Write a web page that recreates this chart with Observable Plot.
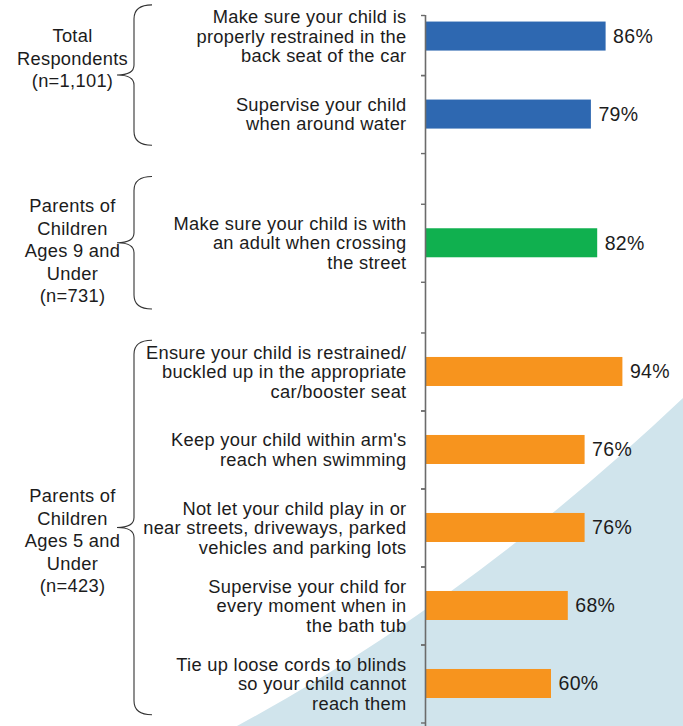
<!DOCTYPE html>
<html><head><meta charset="utf-8">
<script src="https://cdn.jsdelivr.net/npm/d3@7"></script>
<script src="https://cdn.jsdelivr.net/npm/@observablehq/plot@0.6"></script>
<style>
body{margin:0;background:#fff;}
#chart svg{display:block;}
</style></head>
<body><div id="chart"></div>
<script>
// ---- data ----
const groupLabels = [
  "Total\nRespondents\n(n=1,101)",
  "Parents of\nChildren\nAges 9 and\nUnder\n(n=731)",
  "Parents of\nChildren\nAges 5 and\nUnder\n(n=423)"
];
const groupColors = ["#2e68b1", "#10b04f", "#f7941e"];
const behaviors = [
  "Make sure your child is\nproperly restrained in the\nback seat of the car",
  "Supervise your child\nwhen around water",
  "Make sure your child is with\nan adult when crossing\nthe street",
  "Ensure your child is restrained/\nbuckled up in the appropriate\ncar/booster seat",
  "Keep your child within arm's\nreach when swimming",
  "Not let your child play in or\nnear streets, driveways, parked\nvehicles and parking lots",
  "Supervise your child for\nevery moment when in\nthe bath tub",
  "Tie up loose cords to blinds\nso your child cannot\nreach them"
];
const groupOf = [0, 0, 1, 2, 2, 2, 2, 2];
const percents = [86, 79, 82, 94, 76, 76, 68, 60];

// ---- layout helpers ----
const gap = 0.65;                 // spacer between groups, in rows
const labelShift = [-18, 7, 12];  // px nudge of group labels off the brace tip
const rows = behaviors.map((b, i) => ({
  behavior: b, pct: percents[i], group: groupOf[i], slot: i + groupOf[i] * gap
}));
const first = rows[0].slot, last = rows[rows.length - 1].slot;
const yMin = first - 0.27, yMax = last + 0.545;
const bounds = rows.flatMap(d => [d.slot - 0.5, d.slot + 0.5])
  .map(v => Math.max(v, yMin)).filter(v => v <= yMax);
const groups = groupLabels.map((label, g) => {
  const s = rows.filter(d => d.group === g).map(d => d.slot);
  const c = (s[0] + s[s.length - 1]) / 2;
  const half = Math.max((s[s.length - 1] - s[0]) / 2 + 0.4, 0.85);
  return {label, g, c, top: c - half, bottom: c + half};
});

const font = "'Liberation Sans', Arial, Helvetica, sans-serif";
const ink = "#1c1c1c";

function background(index, scales, values, dims) {
  const W = dims.width, H = dims.height;
  return d3.create("svg:path")
    .attr("d", `M${W},398 Q470,600 237,${H} L${W},${H} Z`)
    .attr("fill", "#d0e4ec").node();
}

function braces(index, scales, values, dims) {
  const g = d3.create("svg:g").attr("fill", "none").attr("stroke", "#333").attr("stroke-width", 1.1);
  const xs = 134, xe = 152, xt = 117, r = 14, rt = 10;
  for (const d of groups) {
    const y0 = scales.y(d.top), y1 = scales.y(d.bottom), ym = scales.y(d.c);
    g.append("path").attr("d",
      `M${xe},${y0} Q${xs},${y0} ${xs},${y0 + r} L${xs},${ym - rt} Q${xs},${ym} ${xt},${ym} ` +
      `Q${xs},${ym} ${xs},${ym + rt} L${xs},${y1 - r} Q${xs},${y1} ${xe},${y1}`);
  }
  return g.node();
}

const chart = Plot.plot({
  width: 683,
  height: 726,
  marginLeft: 425,
  marginRight: 48,
  marginTop: 15,
  marginBottom: 0,
  style: {fontFamily: font, background: "#fff", overflow: "visible"},
  x: {domain: [0, 100], axis: null},
  y: {domain: [yMin, yMax], reverse: true, axis: null},
  marks: [
    background,
    Plot.rectX(rows, {
      x1: 0, x2: "pct",
      y1: d => d.slot - 0.186, y2: d => d.slot + 0.186,
      fill: d => groupColors[d.group]
    }),
    Plot.ruleX([0], {stroke: "#6b6b6b", strokeWidth: 1.6}),
    Plot.ruleY(bounds, {y: d => d, x1: -1.9, x2: 0, stroke: "#6b6b6b", strokeWidth: 1.4}),
    Plot.text(rows, {
      x: "pct", y: "slot", text: d => d.pct + "%",
      dx: 7, textAnchor: "start", fontSize: 19.5, fill: ink,
      style: "letter-spacing:0.3px"
    }),
    Plot.text(rows, {
      x: 0, y: "slot", text: "behavior",
      dx: -19, textAnchor: "end", fontSize: 18.3, lineHeight: 1.06, fill: ink
    }),
    ...groups.map(gr => Plot.text([gr], {
      x: 0, y: "c", text: "label",
      dx: -353, dy: labelShift[gr.g], textAnchor: "middle", fontSize: 18.3, lineHeight: 1.23, fill: ink
    })),
    braces
  ]
});
chart.querySelectorAll("text").forEach(t => t.style.letterSpacing = "0.3px");
document.getElementById("chart").appendChild(chart);
</script>
</body></html>
